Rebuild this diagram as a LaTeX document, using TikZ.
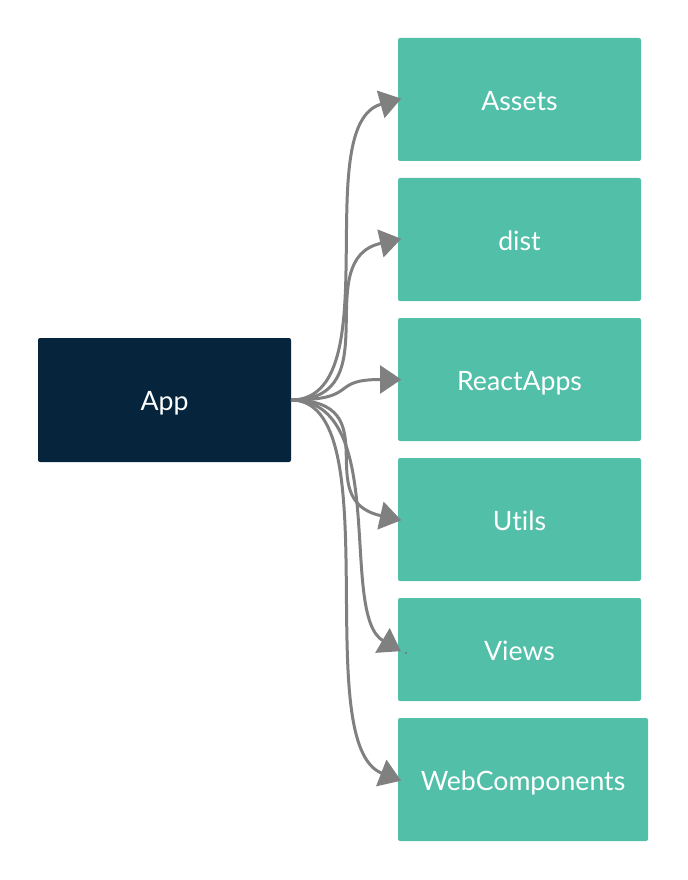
\documentclass[tikz,border=0pt]{standalone}
\usepackage{fontspec}
\setmainfont{Lato}[Ligatures={NoCommon}]
\usetikzlibrary{arrows.meta}
\definecolor{tealbox}{HTML}{52BFA8}
\definecolor{navybox}{HTML}{06253D}
\definecolor{linegray}{HTML}{808080}
\begin{document}
\begin{tikzpicture}[x=0.75pt,y=-0.75pt,
  box/.style={rectangle, rounded corners=1.5pt, inner sep=0pt, outer sep=0pt, text=white,
    font=\fontsize{20pt}{24pt}\selectfont, text height=16pt, text depth=0pt, align=center},
  leaf/.style={box, fill=tealbox, minimum width=182.25pt, minimum height=92.25pt},
  root/.style={box, fill=navybox, minimum width=189.75pt, minimum height=93pt},
  conn/.style={draw=linegray, line width=2.25pt, -{Triangle[length=16pt,width=21pt]}, shorten >=-2.5pt}
]
\useasboundingbox (0,0) rectangle (687,880);
\node[root] (app) at (164.5,400) {App};
\node[leaf] (assets) at (519.5,99.5) {Assets};
\node[leaf] (dist) at (519.5,239.5) {dist};
\node[leaf] (react) at (519.5,379.5) {ReactApps};
\node[leaf] (utils) at (519.5,519.5) {Utils};
\node[leaf, minimum height=77.25pt] (views) at (519.5,649.5) {Views};
\node[leaf, minimum width=187.5pt] (web) at (523,779.5) {WebComponents};

\draw[conn] (app.east) .. controls +(100,0) and +(-90,25) .. (assets.west);
\draw[conn] (app.east) .. controls +(100,0) and +(-90,20) .. (dist.west);
\draw[conn] (app.east) .. controls +(70,0) and +(-70,0) .. (react.west);
\draw[conn] (app.east) .. controls +(100,0) and +(-90,-20) .. (utils.west);
\draw[conn] (app.east) .. controls +(100,0) and +(-60,-35) .. (views.west);
\draw[conn] (app.east) .. controls +(100,0) and +(-90,-35) .. (web.west);
\coordinate (viewsdot) at (406,653);
\fill[linegray] (viewsdot) circle (1.1pt);
\end{tikzpicture}
\end{document}
